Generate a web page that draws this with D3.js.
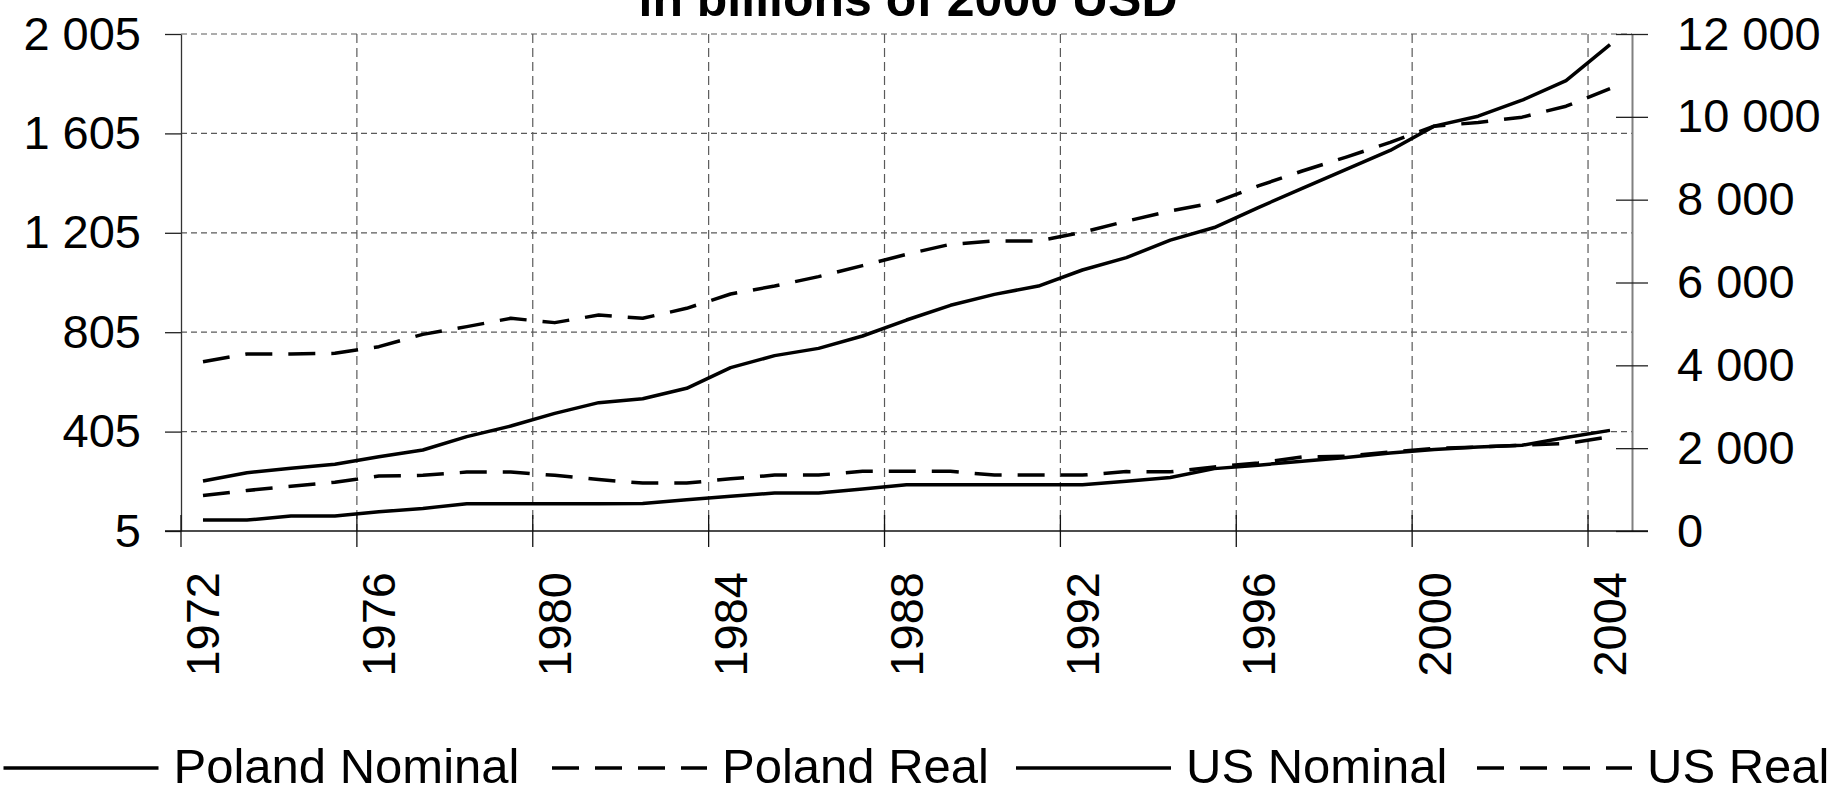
<!DOCTYPE html>
<html>
<head>
<meta charset="utf-8">
<script src="https://cdn.jsdelivr.net/npm/d3@7"></script>
<style>
  html, body { margin: 0; padding: 0; background: #fff; }
  svg { display: block; }
  text { font-family: "Liberation Sans", Arial, Helvetica, sans-serif; fill: #000; }
</style>
</head>
<body>
<svg id="chart" width="1848" height="793"></svg>
<script>
// ---------- DATA ----------
const years = [1972,1973,1974,1975,1976,1977,1978,1979,1980,1981,1982,1983,1984,1985,1986,1987,1988,
               1989,1990,1991,1992,1993,1994,1995,1996,1997,1998,1999,2000,2001,2002,2003,2004];
const yearLabels = [1972,1976,1980,1984,1988,1992,1996,2000,2004];

// Poland, left axis (billions of 2000 USD)
const polandNominal = [49,49,65,65,82,96,115,115,115,115,116,131,145,158,158,174,191,
                       191,191,191,191,205,220,256,270,286,301,319,333,343,350,381,410];
const polandReal    = [148,168,185,201,226,229,242,242,229,212,198,198,215,230,230,245,245,
                       245,230,230,230,244,243,263,279,303,306,323,337,343,350,357,384];
// US, right axis (billions of 2000 USD)
const usNominal = [1207,1408,1513,1610,1795,1956,2278,2535,2841,3099,3195,3445,3944,4234,4410,4708,5094,
                   5449,5714,5915,6302,6600,7022,7327,7809,8274,8732,9189,9775,10016,10401,10875,11741];
const usReal    = [4088,4274,4274,4290,4451,4748,4934,5135,5031,5215,5135,5377,5722,5915,6141,6407,6680,
                   6922,7002,7002,7211,7480,7729,7929,8331,8692,9029,9382,9775,9864,9992,10257,10682];

const leftTicks  = [5,405,805,1205,1605,2005];
const rightTicks = [0,2000,4000,6000,8000,10000,12000];

const titleText = "in billions of 2000 USD";
const seriesNames = ["Poland Nominal","Poland Real","US Nominal","US Real"];

// ---------- LAYOUT ----------
const plot = { left: 181, right: 1632, top: 34, bottom: 531 };
const svg = d3.select("#chart");

const fmt = d3.formatLocale({ decimal: ",", thousands: " ", grouping: [3], currency: ["", ""] }).format(",");

const x = d3.scaleBand().domain(years).range([plot.left, plot.right]).padding(0);
const yL = d3.scaleLinear().domain([5, 2005]).range([plot.bottom, plot.top]);
const yR = d3.scaleLinear().domain([0, 12000]).range([plot.bottom, plot.top]);
const cx = yr => x(yr) + x.bandwidth() / 2;

const gridColor = "#5a5a5a";
const TICK_FS = 47;
const LINE_W = 3.5;

// horizontal grid (left ticks, excluding bottom)
svg.append("g").selectAll("line")
  .data(leftTicks.filter(v => v !== 5))
  .join("line")
  .attr("x1", plot.left).attr("x2", plot.right)
  .attr("y1", d => yL(d)).attr("y2", d => yL(d))
  .attr("stroke", gridColor).attr("stroke-width", 1.2)
  .attr("stroke-dasharray", "6,4");

// vertical grid at category boundaries every 4 years
svg.append("g").selectAll("line")
  .data(yearLabels.filter(v => v !== 1972))
  .join("line")
  .attr("x1", d => x(d)).attr("x2", d => x(d))
  .attr("y1", plot.top).attr("y2", plot.bottom)
  .attr("stroke", gridColor).attr("stroke-width", 1.2)
  .attr("stroke-dasharray", "9,5");

// left axis
const gL = svg.append("g").attr("transform", `translate(${plot.left},0)`)
  .call(d3.axisLeft(yL).tickValues(leftTicks).tickFormat(fmt).tickSize(16).tickSizeOuter(0).tickPadding(24));
gL.select(".domain").attr("stroke", "#333").attr("stroke-width", 1.3);
gL.selectAll(".tick line").attr("stroke", "#222").attr("stroke-width", 1.3);
gL.selectAll(".tick text").attr("font-size", TICK_FS).attr("font-family", "Liberation Sans, Arial, sans-serif").attr("fill", "#000");

// right axis (cross ticks)
const gR = svg.append("g").attr("transform", `translate(${plot.right},0)`)
  .call(d3.axisRight(yR).tickValues(rightTicks).tickFormat(fmt).tickSize(16).tickSizeOuter(0).tickPadding(29));
gR.select(".domain").attr("stroke", "#808080").attr("stroke-width", 2);
gR.selectAll(".tick line").attr("x1", -16).attr("x2", 16).attr("stroke", "#222").attr("stroke-width", 1.3);
gR.selectAll(".tick text").attr("font-size", TICK_FS).attr("font-family", "Liberation Sans, Arial, sans-serif").attr("fill", "#000");

// bottom axis: labels at band centers, ticks at band edges
const gB = svg.append("g").attr("transform", `translate(0,${plot.bottom})`)
  .call(d3.axisBottom(x).tickValues(yearLabels).tickSize(0).tickSizeOuter(0));
gB.select(".domain").remove();
gB.selectAll(".tick text")
  .attr("font-size", TICK_FS).attr("font-family", "Liberation Sans, Arial, sans-serif").attr("fill", "#000")
  .attr("transform", "rotate(-90)")
  .attr("x", -41).attr("y", 0).attr("dy", "0.35em")
  .attr("text-anchor", "end");

svg.append("line")
  .attr("x1", plot.left - 16).attr("x2", plot.right + 16)
  .attr("y1", plot.bottom).attr("y2", plot.bottom)
  .attr("stroke", "#111").attr("stroke-width", 1.5);
svg.append("g").selectAll("line")
  .data(yearLabels)
  .join("line")
  .attr("x1", d => x(d)).attr("x2", d => x(d))
  .attr("y1", plot.bottom - 16).attr("y2", plot.bottom + 16)
  .attr("stroke", "#111").attr("stroke-width", 1.3);

// ---------- LINES ----------
const series = [
  { name: seriesNames[0], values: polandNominal, scale: yL, dash: null },
  { name: seriesNames[1], values: polandReal,    scale: yL, dash: "27,16" },
  { name: seriesNames[2], values: usNominal,     scale: yR, dash: null },
  { name: seriesNames[3], values: usReal,        scale: yR, dash: "27,16" }
];

series.forEach(s => {
  const line = d3.line()
    .x((d, i) => cx(years[i]))
    .y(d => s.scale(d));
  svg.append("path")
    .datum(s.values)
    .attr("d", line)
    .attr("fill", "none")
    .attr("stroke", "#000")
    .attr("stroke-width", LINE_W)
    .attr("stroke-linejoin", "round")
    .attr("stroke-dasharray", s.dash);
});

// ---------- TITLE ----------
svg.append("text")
  .attr("x", 908).attr("y", 16)
  .attr("text-anchor", "middle")
  .attr("font-size", 50).attr("font-weight", "bold")
  .text(titleText);

// ---------- LEGEND ----------
const legY = 783, legLineY = 768, legLineLen = 155;
const legStarts = [3.5, 552, 1016, 1477];
const leg = svg.append("g");
series.forEach((s, i) => {
  const x0 = legStarts[i];
  leg.append("line")
    .attr("x1", x0).attr("x2", x0 + legLineLen)
    .attr("y1", legLineY).attr("y2", legLineY)
    .attr("stroke", "#000").attr("stroke-width", LINE_W)
    .attr("stroke-dasharray", s.dash);
  leg.append("text")
    .attr("x", x0 + legLineLen + 15).attr("y", legY)
    .attr("font-size", 49)
    .text(s.name);
});
</script>
</body>
</html>
